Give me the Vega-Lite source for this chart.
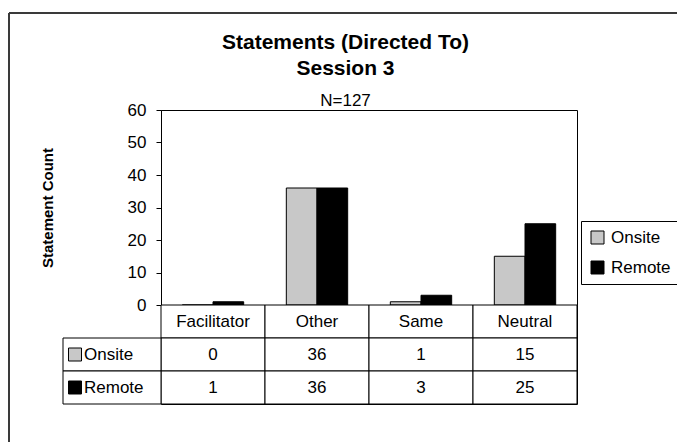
{
  "$schema": "https://vega.github.io/schema/vega-lite/v6.json",
  "background": "white",
  "padding": {"left": 7, "top": 11, "right": 0, "bottom": 0},
  "title": {
    "text": ["Statements (Directed To)", "Session 3"],
    "subtitle": "N=127",
    "fontSize": 21,
    "fontWeight": "bold",
    "font": "Liberation Sans",
    "color": "black",
    "lineHeight": 26,
    "subtitleFont": "Liberation Sans",
    "subtitleFontSize": 17,
    "subtitleColor": "black",
    "subtitlePadding": 14,
    "anchor": "middle",
    "offset": -97,
    "dx": 2
  },
  "datasets": {
    "values": [
      {"category": "Facilitator", "series": "Onsite", "value": 0},
      {"category": "Facilitator", "series": "Remote", "value": 1},
      {"category": "Other", "series": "Onsite", "value": 36},
      {"category": "Other", "series": "Remote", "value": 36},
      {"category": "Same", "series": "Onsite", "value": 1},
      {"category": "Same", "series": "Remote", "value": 3},
      {"category": "Neutral", "series": "Onsite", "value": 15},
      {"category": "Neutral", "series": "Remote", "value": 25}
    ],
    "header": [
      {"category": "Facilitator", "series": "header"},
      {"category": "Other", "series": "header"},
      {"category": "Same", "series": "header"},
      {"category": "Neutral", "series": "header"}
    ],
    "seriesList": [
      {"series": "Onsite", "col": "label"},
      {"series": "Remote", "col": "label"}
    ],
    "frame": [
      {"edge": "left", "fx": 0, "fx2": 0, "fy": 0, "fy2": 1},
      {"edge": "top", "fx": 0, "fx2": 1, "fy": 0, "fy2": 0}
    ]
  },
  "config": {
    "font": "Liberation Sans",
    "view": {"stroke": "black", "strokeWidth": 1},
    "axis": {
      "labelFont": "Liberation Sans",
      "labelFontSize": 17,
      "labelColor": "black",
      "titleFont": "Liberation Sans",
      "titleFontSize": 15,
      "titleFontWeight": "bold",
      "titleColor": "black",
      "tickColor": "black",
      "domainColor": "black",
      "gridColor": "black",
      "gridOpacity": 1
    }
  },
  "spacing": 0,
  "bounds": "flush",
  "vconcat": [
    {
      "width": 416,
      "height": 195,
      "resolve": {"scale": {"x": "independent", "y": "independent"}},
      "layer": [
        {
          "data": {"name": "frame"},
          "mark": {"type": "rule", "stroke": "#3a3a3a", "strokeWidth": 2},
          "encoding": {
            "x": {"field": "fx", "type": "quantitative", "scale": {"domain": [0, 1], "range": [-152, 517], "nice": false, "zero": false}, "axis": null},
            "x2": {"field": "fx2"},
            "y": {"field": "fy", "type": "quantitative", "scale": {"domain": [0, 1], "range": [-97, 333], "nice": false, "zero": false}, "axis": null},
            "y2": {"field": "fy2"}
          }
        },
        {
          "data": {"name": "values"},
          "mark": {"type": "bar", "stroke": "black", "strokeWidth": 1},
          "encoding": {
            "x": {
              "field": "category",
              "type": "nominal",
              "sort": ["Facilitator", "Other", "Same", "Neutral"],
              "scale": {"paddingInner": 0.41, "paddingOuter": 0.205},
              "axis": null
            },
            "xOffset": {"field": "series", "type": "nominal", "sort": ["Onsite", "Remote"]},
            "y": {
              "field": "value",
              "type": "quantitative",
              "scale": {"domain": [0, 60]},
              "axis": {
                "values": [0, 10, 20, 30, 40, 50, 60],
                "title": "Statement Count",
                "tickSize": 5,
                "labelPadding": 10,
                "titlePadding": 72
              }
            },
            "color": {
              "field": "series",
              "type": "nominal",
              "scale": {"domain": ["Onsite", "Remote"], "range": ["#c8c8c8", "#000000"]},
              "legend": {
                "orient": "none",
                "legendX": 420,
                "legendY": 111,
                "title": null,
                "strokeColor": "black",
                "fillColor": "white",
                "padding": 8,
                "symbolType": "square",
                "symbolSize": 169,
                "symbolStrokeColor": "black",
                "symbolStrokeWidth": 1,
                "symbolOpacity": 1,
                "labelFontSize": 17,
                "labelColor": "black",
                "labelFont": "Liberation Sans",
                "rowPadding": 12,
                "labelOffset": 5
              }
            }
          }
        }
      ]
    },
    {
      "width": 416,
      "height": 99,
      "resolve": {"scale": {"x": "independent"}},
      "layer": [
        {
          "data": {"name": "header"},
          "mark": {"type": "rect", "fill": "white", "stroke": "black", "strokeWidth": 1},
          "encoding": {
            "x": {"field": "category", "type": "nominal", "sort": ["Facilitator", "Other", "Same", "Neutral"], "scale": {"type": "band", "paddingInner": 0, "paddingOuter": 0}, "axis": null},
            "y": {"field": "series", "type": "nominal", "scale": {"type": "band", "domain": ["header", "Onsite", "Remote"], "paddingInner": 0, "paddingOuter": 0}, "axis": null}
          }
        },
        {
          "data": {"name": "header"},
          "mark": {"type": "text", "fontSize": 17, "color": "black", "font": "Liberation Sans"},
          "encoding": {
            "x": {"field": "category", "type": "nominal", "sort": ["Facilitator", "Other", "Same", "Neutral"], "scale": {"type": "band", "paddingInner": 0, "paddingOuter": 0}, "axis": null},
            "y": {"field": "series", "type": "nominal", "axis": null},
            "text": {"field": "category"}
          }
        },
        {
          "data": {"name": "values"},
          "mark": {"type": "rect", "fill": "white", "stroke": "black", "strokeWidth": 1},
          "encoding": {
            "x": {"field": "category", "type": "nominal", "sort": ["Facilitator", "Other", "Same", "Neutral"], "scale": {"type": "band", "paddingInner": 0, "paddingOuter": 0}, "axis": null},
            "y": {"field": "series", "type": "nominal", "axis": null}
          }
        },
        {
          "data": {"name": "values"},
          "mark": {"type": "text", "fontSize": 17, "color": "black", "font": "Liberation Sans"},
          "encoding": {
            "x": {"field": "category", "type": "nominal", "sort": ["Facilitator", "Other", "Same", "Neutral"], "scale": {"type": "band", "paddingInner": 0, "paddingOuter": 0}, "axis": null},
            "y": {"field": "series", "type": "nominal", "axis": null},
            "text": {"field": "value", "type": "quantitative"}
          }
        },
        {
          "data": {"name": "seriesList"},
          "mark": {"type": "rect", "fill": "white", "stroke": "black", "strokeWidth": 1},
          "encoding": {
            "x": {"field": "col", "type": "nominal", "scale": {"type": "band", "domain": ["label"], "range": [-98, 0], "paddingInner": 0, "paddingOuter": 0}, "axis": null},
            "y": {"field": "series", "type": "nominal", "axis": null}
          }
        },
        {
          "data": {"name": "seriesList"},
          "mark": {"type": "square", "size": 169, "stroke": "black", "strokeWidth": 1, "opacity": 1, "filled": true, "xOffset": -37},
          "encoding": {
            "x": {"field": "col", "type": "nominal", "scale": {"type": "band", "domain": ["label"], "range": [-98, 0], "paddingInner": 0, "paddingOuter": 0}, "axis": null},
            "y": {"field": "series", "type": "nominal", "axis": null},
            "color": {"field": "series", "type": "nominal"}
          }
        },
        {
          "data": {"name": "seriesList"},
          "mark": {"type": "text", "fontSize": 17, "color": "black", "font": "Liberation Sans", "align": "left", "dx": -28},
          "encoding": {
            "x": {"field": "col", "type": "nominal", "scale": {"type": "band", "domain": ["label"], "range": [-98, 0], "paddingInner": 0, "paddingOuter": 0}, "axis": null},
            "y": {"field": "series", "type": "nominal", "axis": null},
            "text": {"field": "series"}
          }
        }
      ]
    }
  ]
}
